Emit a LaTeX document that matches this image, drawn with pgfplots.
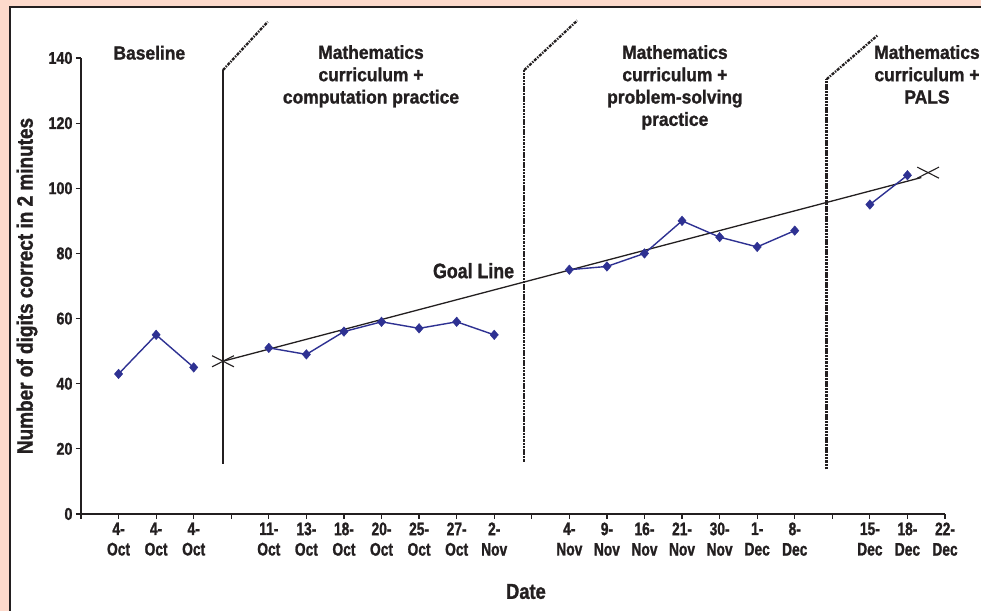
\documentclass[border=0pt]{standalone}
\usepackage{pgfplots}
\pgfplotsset{compat=1.18}
\usepackage{fontspec}
\setmainfont{Liberation Sans}
\newfontfamily\fA{Liberation Sans}[FakeStretch=0.92, BoldFeatures={FakeBold=1.2}]
\newfontfamily\fB{Liberation Sans}[FakeStretch=0.85, BoldFeatures={FakeBold=1.2}]
\newfontfamily\fC{Liberation Sans}[FakeStretch=0.76, BoldFeatures={FakeBold=1.2}]
\definecolor{bgpink}{RGB}{253,218,204}
\definecolor{navy}{RGB}{46,49,146}
\definecolor{ink}{RGB}{35,31,32}
\tikzset{
  vdash/.style={ink, line width=2.4bp, dash pattern=on 2.5bp off 0.8bp},
  ddash/.style={ink, line width=2.3bp, dash pattern=on 3bp off 1.2bp on 1.4bp off 1.2bp},
  titlef/.style={font=\fA\bfseries\fontsize{19}{22.4}\selectfont, text=ink, inner sep=0pt, align=center}
}
\begin{document}
\begin{tikzpicture}[x=1bp,y=1bp]
\path[use as bounding box] (0,0) rectangle (981,611);
\clip (0,0) rectangle (981,611);
\fill[bgpink] (0,0) rectangle (981,611);
\filldraw[fill=white, draw=ink, line width=2bp] (10,-10) rectangle (1000,604);
\begin{axis}[
  at={(81bp,97bp)}, anchor=south west, scale only axis,
  width=864bp, height=456bp,
  xmin=0, xmax=23, ymin=0, ymax=140,
  clip=false,
  axis x line*=bottom, axis y line*=left,
  axis line style={ink, line width=1.4bp},
  tick style={ink, line width=1.2bp},
  tick align=outside, major tick length=5bp,
  xtick={0,...,23},
  xticklabels={{},{4-\\Oct},{4-\\Oct},{4-\\Oct},{},{11-\\Oct},{13-\\Oct},{18-\\Oct},{20-\\Oct},{25-\\Oct},{27-\\Oct},{2-\\Nov},{},{4-\\Nov},{9-\\Nov},{16-\\Nov},{21-\\Nov},{30-\\Nov},{1-\\Dec},{8-\\Dec},{},{15-\\Dec},{18-\\Dec},{22-\\Dec}},
  xticklabel style={align=center, text=ink, font=\fC\bfseries\fontsize{18.2}{20.5}\selectfont},
  ytick={0,20,...,140},
  yticklabel style={text=ink, font=\fB\bfseries\fontsize{17}{18}\selectfont},
  /pgf/number format/assume math mode=true,
  ylabel={Number of digits correct in 2 minutes},
  ylabel style={at={(axis description cs:-0.0625,0.5)}, anchor=center, text=ink, font=\fB\bfseries\fontsize{22.4}{24}\selectfont},
  xlabel={Date},
  xlabel style={at={(axis description cs:0.515,-0.170)}, anchor=center, text=ink, font=\fB\bfseries\fontsize{21.6}{24}\selectfont},
]
% phase change lines
\addplot[ink, line width=1.3bp] coordinates {(3.78,15.4) (3.78,136.3)};
\addplot[ddash] coordinates {(3.78,136.3) (4.97,151.1)};
\addplot[vdash] coordinates {(11.80,16.1) (11.80,136.3)};
\addplot[ddash] coordinates {(11.80,136.3) (13.21,151.5)};
\addplot[vdash] coordinates {(19.85,13.7) (19.85,133.5)};
\addplot[ddash] coordinates {(19.85,133.5) (21.20,146.9)};
% goal line
\addplot[ink, line width=1.3bp] coordinates {(3.78,46.9) (22.37,103.3)};
\addplot[ink, line width=1.1bp] coordinates {(3.49,45.2) (4.07,48.6)};
\addplot[ink, line width=1.1bp] coordinates {(3.49,48.6) (4.07,45.2)};
\addplot[ink, line width=1.1bp] coordinates {(22.26,103.1) (22.84,106.5)};
\addplot[ink, line width=1.1bp] coordinates {(22.26,106.5) (22.84,103.1)};
% data
\pgfplotsset{dstyle/.style={navy, line width=1.4bp, mark=diamond*, mark size=4.8bp, mark options={xscale=1.15, fill=navy, draw=navy, line width=0.4bp}}}
\addplot[dstyle] coordinates {(1,43) (2,55) (3,45)};
\addplot[dstyle] coordinates {(5,51) (6,49) (7,56) (8,59) (9,57) (10,59) (11,55)};
\addplot[dstyle] coordinates {(13,75) (14,76) (15,80) (16,90) (17,85) (18,82) (19,87)};
\addplot[dstyle] coordinates {(21,95) (22,104)};
% texts
\node[titlef, anchor=north] at (axis cs:1.82,143.8) {Baseline};
\node[titlef, anchor=north] at (axis cs:7.72,144) {Mathematics\\curriculum +\\computation practice};
\node[titlef, anchor=north] at (axis cs:15.81,144) {Mathematics\\curriculum +\\problem-solving\\practice};
\node[titlef, anchor=north] at (axis cs:22.52,144) {Mathematics\\curriculum +\\PALS};
\node[anchor=base, inner sep=0pt, text=ink, font=\fB\bfseries\fontsize{21}{24}\selectfont] at (axis cs:10.45,72.4) {Goal Line};
\end{axis}
\end{tikzpicture}
\end{document}
